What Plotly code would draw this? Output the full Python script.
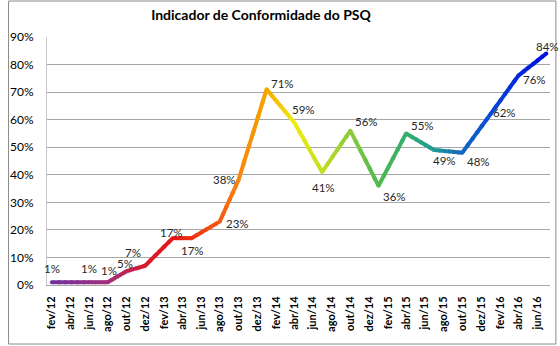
import plotly.graph_objects as go
import pandas as pd

# ---- data ----
dates = ["2012-02-01", "2012-06-01", "2012-08-01", "2012-10-01", "2012-12-01",
         "2013-03-01", "2013-05-01", "2013-08-01", "2013-10-01", "2014-01-01",
         "2014-04-01", "2014-07-01", "2014-10-01", "2015-01-01", "2015-04-01",
         "2015-07-01", "2015-10-01", "2016-01-01", "2016-04-01", "2016-07-01"]
values = [1, 1, 1, 5, 7, 17, 17, 23, 38, 71, 59, 41, 56, 36, 55, 49, 48, 62, 76, 84]

tick_dates = ["2012-02-01", "2012-04-01", "2012-06-01", "2012-08-01", "2012-10-01", "2012-12-01",
              "2013-02-01", "2013-04-01", "2013-06-01", "2013-08-01", "2013-10-01", "2013-12-01",
              "2014-02-01", "2014-04-01", "2014-06-01", "2014-08-01", "2014-10-01", "2014-12-01",
              "2015-02-01", "2015-04-01", "2015-06-01", "2015-08-01", "2015-10-01", "2015-12-01",
              "2016-02-01", "2016-04-01", "2016-06-01"]
tick_labels = ["fev/12", "abr/12", "jun/12", "ago/12", "out/12", "dez/12",
               "fev/13", "abr/13", "jun/13", "ago/13", "out/13", "dez/13",
               "fev/14", "abr/14", "jun/14", "ago/14", "out/14", "dez/14",
               "fev/15", "abr/15", "jun/15", "ago/15", "out/15", "dez/15",
               "fev/16", "abr/16", "jun/16"]

title = "Indicador de Conformidade do PSQ"

# ---- style ----
# gradient stops (fraction along the line, colour)
grad = [(0.000, (0x70, 0x30, 0xa0)), (0.113, (0xa0, 0x30, 0x7a)), (0.190, (0xd8, 0x1a, 0x30)),
        (0.245, (0xe8, 0x14, 0x14)), (0.340, (0xf2, 0x5a, 0x12)), (0.377, (0xf7, 0x85, 0x0f)),
        (0.434, (0xf5, 0xa3, 0x00)), (0.490, (0xf0, 0xec, 0x10)), (0.547, (0xc4, 0xdf, 0x22)),
        (0.604, (0x8c, 0xcb, 0x3c)), (0.660, (0x52, 0xb8, 0x50)), (0.717, (0x36, 0xae, 0x6c)),
        (0.774, (0x1e, 0x9a, 0x96)), (0.830, (0x14, 0x68, 0xc0)), (0.887, (0x0a, 0x4c, 0xd2)),
        (0.943, (0x04, 0x28, 0xda)), (1.000, (0x00, 0x12, 0xe0))]

# label offsets in px (dx, dy up)
label_off = [(0, 14), (0, 14), (1, 12), (-1, 8), (-12, 13), (-1, 6), (1, -12), (18, -2),
             (-14, 1), (16, 6), (9, 13), (1, -15), (16, 9), (16, -11), (16, 8), (10, -11),
             (16, -9), (14, 2), (16, -4), (1, 7)]

def color_at(f):
    f = min(max(f, 0.0), 1.0)
    for (f0, c0), (f1, c1) in zip(grad[:-1], grad[1:]):
        if f <= f1:
            t = 0 if f1 == f0 else (f - f0) / (f1 - f0)
            c = tuple(int(round(a + (b - a) * t)) for a, b in zip(c0, c1))
            return "rgb(%d,%d,%d)" % c
    return "rgb(%d,%d,%d)" % grad[-1][1]

ts = pd.to_datetime(dates)
t0, t1 = ts[0], ts[-1]
span = (t1 - t0).total_seconds()

fig = go.Figure()
NSUB = 6
for i in range(len(ts) - 1):
    xa, xb = ts[i], ts[i + 1]
    ya, yb = values[i], values[i + 1]
    for k in range(NSUB):
        u0 = k / NSUB
        u1 = min((k + 1) / NSUB + 0.35 / NSUB, 1.0)
        xs = [xa + (xb - xa) * u0, xa + (xb - xa) * u1]
        ys = [ya + (yb - ya) * u0, ya + (yb - ya) * u1]
        fm = ((xs[0] - t0).total_seconds() + (xs[1] - t0).total_seconds()) / 2 / span
        fig.add_trace(go.Scatter(x=xs, y=ys, mode="lines",
                                 line=dict(color=color_at(fm), width=4),
                                 hoverinfo="skip", showlegend=False))

pt_colors = [color_at((t - t0).total_seconds() / span) for t in ts]
fig.add_trace(go.Scatter(x=ts, y=values, mode="markers",
                         marker=dict(color=pt_colors, size=4, line=dict(width=0)),
                         hoverinfo="skip", showlegend=False))

for t, v, (dx, dy) in zip(ts, values, label_off):
    fig.add_annotation(x=t, y=v, xref="x", yref="y", text=f"{v}%", showarrow=False,
                       xshift=dx, yshift=dy,
                       font=dict(family="Lato, sans-serif", size=11.5, color="#262626"))

L, R, T, B = 40, 10, 37, 61
W, H = 560, 346
pw, ph = W - L - R, H - T - B
fig.add_shape(type="rect", xref="paper", yref="paper",
              x0=(1 - L) / pw, x1=(W - 4 - L) / pw,
              y0=(H - B - (H - 2)) / ph, y1=(H - B - 1) / ph,
              line=dict(color="#8c8c8c", width=1), fillcolor="rgba(0,0,0,0)", layer="below")

fig.update_layout(
    width=W, height=H,
    margin=dict(l=L, r=R, t=T, b=B),
    paper_bgcolor="white", plot_bgcolor="white",
    title=dict(text=f"<b>{title}</b>", x=261 / W, xref="container", xanchor="center",
               y=1 - 15 / H, yref="container", yanchor="middle",
               font=dict(family="Lato, sans-serif", size=14, color="#000000")),
    xaxis=dict(type="date", range=["2012-01-16", "2016-07-13"],
               tickmode="array", tickvals=tick_dates, ticktext=tick_labels,
               tickangle=-90, ticks="", ticklabelstandoff=6,
               tickfont=dict(family="Lato, sans-serif", size=11, color="#000000", weight="bold"),
               showgrid=False, showline=True, linecolor="#a6a6a6", linewidth=1,
               zeroline=False, fixedrange=True),
    yaxis=dict(range=[0, 90], dtick=10, tick0=0, ticksuffix="%",
               ticks="", ticklabelstandoff=10,
               tickfont=dict(family="Lato, sans-serif", size=12, color="#000000"),
               showgrid=True, gridcolor="#a6a6a6", gridwidth=1,
               showline=True, linecolor="#c8c8c8", linewidth=1,
               zeroline=False, fixedrange=True),
)

fig.write_html("out.html")
